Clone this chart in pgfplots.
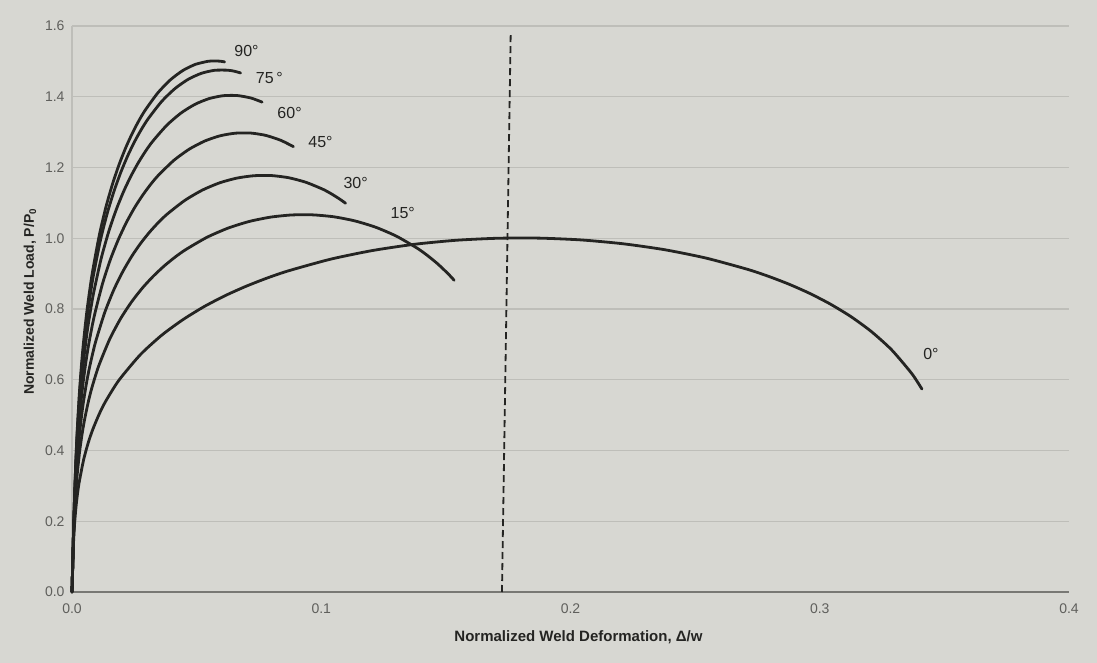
\documentclass[border=0pt]{standalone}
\usepackage{pgfplots}
\pgfplotsset{compat=1.18}
\usepackage{fontspec}
\setmainfont{Liberation Sans}
\definecolor{paper}{RGB}{215,215,210}
\definecolor{gridc}{RGB}{190,190,185}
\definecolor{ink}{RGB}{36,36,34}
\definecolor{ticktext}{RGB}{95,95,92}
\definecolor{axisc}{RGB}{120,120,116}
\pgfplotsset{curve/.style={draw=ink, line width=2.8pt, line join=round, line cap=round, mark=none, smooth, tension=0.4}}

\begin{document}
\begin{tikzpicture}[x=1pt,y=1pt]
\fill[paper] (-72,-71) rectangle (1025,592);
\useasboundingbox (-72,-71) rectangle (1025,592);
\begin{axis}[
  at={(0,0)}, anchor=south west,
  scale only axis, width=997pt, height=566pt,
  xmin=0, xmax=0.4, ymin=0, ymax=1.6,
  axis lines*=left,
  x axis line style={draw=axisc, line width=1.4pt},
  y axis line style={draw=gridc, line width=1.2pt},
  xtick={0,0.1,0.2,0.3,0.4},
  xticklabels={0.0,0.1,0.2,0.3,0.4},
  ytick={0,0.2,0.4,0.6,0.8,1.0,1.2,1.4,1.6},
  yticklabels={0.0,0.2,0.4,0.6,0.8,1.0,1.2,1.4,1.6},
  major tick length=0pt,
  ymajorgrids,
  grid style={draw=gridc, line width=1.2pt},
  ticklabel style={font=\fontsize{14}{16}\selectfont, text=ticktext},
  xticklabel style={yshift=-8pt},
  yticklabel style={xshift=-4pt},
  xlabel={\bfseries Normalized Weld Deformation, Δ/w},
  ylabel={\bfseries Normalized Weld Load, P/P\textsubscript{0}},
  label style={text=ink},
  xlabel style={font=\fontsize{15}{18}\selectfont, at={(axis description cs:0.508,0)}, anchor=center, yshift=-45pt},
  ylabel style={font=\fontsize{14}{16}\selectfont, at={(axis description cs:-0.0421,0.513)}, anchor=center},
  clip=false,
]
% 90 deg
\addplot[curve] coordinates {(0,0) (0.00068,0.186) (0.00109,0.2819) (0.00154,0.3707) (0.00209,0.4562) (0.00295,0.5607) (0.00369,0.6324) (0.00438,0.6884) (0.00535,0.7557) (0.00628,0.8106) (0.00806,0.8982) (0.01090,1.0068) (0.01365,1.0892) (0.01634,1.1552) (0.01900,1.2104) (0.02162,1.2570) (0.02422,1.2971) (0.02680,1.3319) (0.02937,1.3620) (0.03446,1.4112) (0.03951,1.4480) (0.04452,1.4744) (0.04950,1.4915) (0.05445,1.5000) (0.05691,1.5012) (0.05937,1.5005) (0.06123,1.4985)};
% 75 deg
\addplot[curve] coordinates {(0,0) (0.00067,0.1829) (0.00107,0.2771) (0.00154,0.3644) (0.00209,0.4485) (0.00297,0.5512) (0.00374,0.6217) (0.00445,0.6767) (0.00546,0.7429) (0.00643,0.7969) (0.00829,0.8830) (0.01126,0.9898) (0.01415,1.0708) (0.01698,1.1357) (0.01977,1.1899) (0.02253,1.2358) (0.02526,1.2752) (0.02798,1.3094) (0.03069,1.3390) (0.03606,1.3874) (0.04138,1.4235) (0.04667,1.4495) (0.05193,1.4663) (0.05716,1.4747) (0.06236,1.4751) (0.06495,1.4724) (0.06764,1.4673)};
% 60 deg
\addplot[curve] coordinates {(0,0) (0.00064,0.1740) (0.00103,0.2636) (0.00149,0.3467) (0.00205,0.4267) (0.00295,0.5244) (0.00374,0.5915) (0.00449,0.6438) (0.00554,0.7068) (0.00656,0.7582) (0.00852,0.8401) (0.01167,0.9417) (0.01473,1.0187) (0.01773,1.0805) (0.02070,1.1321) (0.02365,1.1757) (0.02657,1.2132) (0.02947,1.2457) (0.03236,1.2739) (0.03810,1.3199) (0.04380,1.3543) (0.04947,1.3790) (0.05510,1.3950) (0.06071,1.4030) (0.06629,1.4034) (0.07185,1.3963) (0.07627,1.3848)};
% 45 deg
\addplot[curve] coordinates {(0,0) (0.00059,0.1608) (0.00098,0.2437) (0.00143,0.3205) (0.00199,0.3944) (0.00292,0.4848) (0.00374,0.5468) (0.00452,0.5952) (0.00564,0.6534) (0.00672,0.7009) (0.00882,0.7766) (0.01220,0.8705) (0.01550,0.9418) (0.01875,0.9988) (0.02196,1.0466) (0.02515,1.0869) (0.02833,1.1215) (0.03148,1.1516) (0.03462,1.1777) (0.04087,1.2202) (0.04708,1.2520) (0.05326,1.2748) (0.05941,1.2896) (0.06554,1.2970) (0.07164,1.2974) (0.07772,1.2908) (0.08377,1.2768) (0.08883,1.2590)};
% 30 deg
\addplot[curve] coordinates {(0,0) (0.00055,0.1459) (0.00091,0.2211) (0.00136,0.2908) (0.00194,0.3579) (0.00292,0.4399) (0.00381,0.4961) (0.00465,0.5400) (0.00587,0.5929) (0.00706,0.6359) (0.00937,0.7047) (0.01312,0.7899) (0.01679,0.8545) (0.02042,0.9063) (0.02402,0.9496) (0.02760,0.9862) (0.03116,1.0176) (0.03471,1.0449) (0.03824,1.0685) (0.04528,1.1071) (0.05228,1.1360) (0.05925,1.1567) (0.06620,1.1701) (0.07312,1.1768) (0.08002,1.1772) (0.08690,1.1711) (0.09375,1.1584) (0.10059,1.1387) (0.10399,1.1258) (0.10739,1.1108) (0.10976,1.0989)};
% 15 deg
\addplot[curve] coordinates {(0,0) (0.00051,0.1322) (0.00087,0.2003) (0.00134,0.2634) (0.00198,0.3241) (0.00308,0.3984) (0.00411,0.4493) (0.00509,0.4891) (0.00652,0.5369) (0.00792,0.5760) (0.01067,0.6382) (0.01516,0.7154) (0.01959,0.7739) (0.02397,0.8208) (0.02833,0.8600) (0.03267,0.8931) (0.03699,0.9216) (0.04129,0.9463) (0.04559,0.9677) (0.05415,1.0027) (0.06268,1.0288) (0.07119,1.0476) (0.07967,1.0597) (0.08813,1.0658) (0.09657,1.0661) (0.10499,1.0607) (0.11339,1.0492) (0.12177,1.0313) (0.13012,1.0060) (0.13844,0.9721) (0.14259,0.9513) (0.14673,0.9275) (0.15085,0.8999) (0.15332,0.8812)};
% 0 deg
\addplot[curve] coordinates {(0,0) (0.00052,0.1240) (0.00099,0.1879) (0.00170,0.2471) (0.00274,0.3041) (0.00466,0.3738) (0.00650,0.4216) (0.00830,0.4589) (0.01097,0.5038) (0.01361,0.5404) (0.01884,0.5988) (0.02746,0.6712) (0.03602,0.7261) (0.04455,0.7701) (0.05304,0.8069) (0.06152,0.8380) (0.06999,0.8647) (0.07844,0.8879) (0.08688,0.9080) (0.10373,0.9408) (0.12056,0.9653) (0.13736,0.9829) (0.15414,0.9943) (0.17090,1.0000) (0.18764,1.0003) (0.20436,0.9952) (0.22107,0.9844) (0.23775,0.9676) (0.25440,0.9439) (0.27103,0.9121) (0.27933,0.8926) (0.28763,0.8702) (0.29591,0.8443) (0.30417,0.8142) (0.31242,0.7789) (0.32064,0.7366) (0.32883,0.6846) (0.33696,0.6171) (0.34099,0.5737)};
% dashed limit line
\addplot[draw=ink, line width=1.8pt, dash pattern=on 7pt off 4pt, line cap=butt, mark=none] coordinates {(0.1725,0) (0.1760,1.577)};
% curve labels
\begin{scope}[every node/.style={font=\fontsize{16}{18}\selectfont, text=ink, anchor=center, inner sep=0pt}]
\node at (axis cs:0.0700,1.529) {90°};
\node at (axis cs:0.0792,1.453) {75\,°};
\node at (axis cs:0.0873,1.354) {60°};
\node at (axis cs:0.0997,1.273) {45°};
\node at (axis cs:0.1138,1.157) {30°};
\node at (axis cs:0.1327,1.072) {15°};
\node at (axis cs:0.3446,0.672) {0°};
\end{scope}
\end{axis}
\end{tikzpicture}
\end{document}
